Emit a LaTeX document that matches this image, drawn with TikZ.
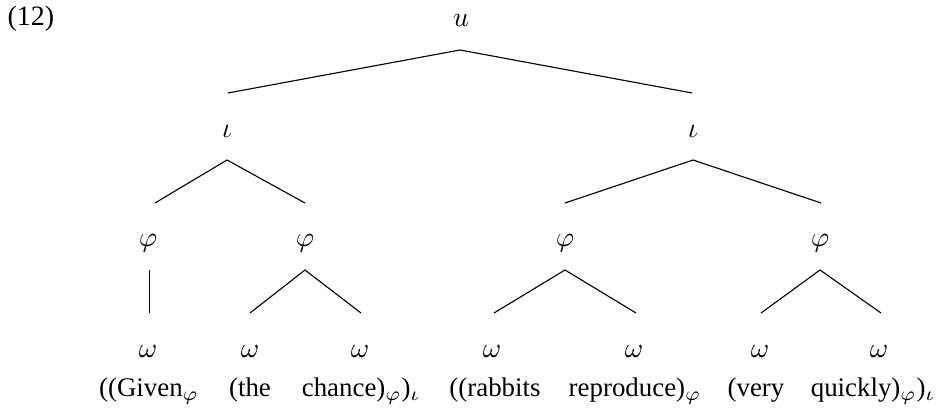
\documentclass[tikz,border=0pt]{standalone}
\usepackage{fontspec}
\setmainfont{Liberation Serif}
\begin{document}
\begin{tikzpicture}[x=0.357pt,y=-0.357pt,
  lab/.style={inner sep=0pt,font=\fontsize{10}{12}\selectfont},
  word/.style={inner sep=0pt,anchor=base,font=\fontsize{9.6}{12}\selectfont},
  edge/.style={line width=0.4pt}]
\useasboundingbox (0,0) rectangle (937,417);
\node[lab,anchor=base west] (ex) at (7,26) {(12)};
% labels
\node[lab] (u) at (461,20) {$u$};
\node[lab] (iL) at (227,131) {$\iota$};
\node[lab] (iR) at (693,131) {$\iota$};
\node[lab] (p1) at (148,243) {$\varphi$};
\node[lab] (p2) at (305,243) {$\varphi$};
\node[lab] (p3) at (565,243) {$\varphi$};
\node[lab] (p4) at (820,243) {$\varphi$};
\node[lab] (w1) at (148,351) {$\omega$};
\node[lab] (w2) at (250,351) {$\omega$};
\node[lab] (w3) at (360,351) {$\omega$};
\node[lab] (w4) at (492,351) {$\omega$};
\node[lab] (w5) at (634,351) {$\omega$};
\node[lab] (w6) at (760,351) {$\omega$};
\node[lab] (w7) at (879,351) {$\omega$};
% words
\node[word] (t1) at (149,396) {((Given$_\varphi$};
\node[word] (t2) at (250,396) {(the};
\node[word] (t3) at (361,396) {chance)$_\varphi$)$_\iota$};
\node[word] (t4) at (495,396) {((rabbits};
\node[word] (t5) at (635,396) {reproduce)$_\varphi$};
\node[word] (t6) at (756,396) {(very};
\node[word] (t7) at (873,396) {quickly)$_\varphi$)$_\iota$};
% edge end points
\coordinate (uB) at (460,50);
\coordinate (iLT) at (228,93);
\coordinate (iRT) at (692,93);
\coordinate (iLB) at (227,160);
\coordinate (iRB) at (693,160);
\coordinate (p1T) at (155,203);
\coordinate (p2T) at (305,203);
\coordinate (p3T) at (565,203);
\coordinate (p4T) at (821,203);
\coordinate (p1B) at (149.5,270);
\coordinate (p2B) at (305,270);
\coordinate (p3B) at (565,270);
\coordinate (p4B) at (820,270);
\coordinate (w1T) at (149.5,313);
\coordinate (w2T) at (250,313);
\coordinate (w3T) at (361,313);
\coordinate (w4T) at (494,313);
\coordinate (w5T) at (636,313);
\coordinate (w6T) at (761,313);
\coordinate (w7T) at (881,313);
\draw[edge] (iLT) -- (uB) -- (iRT);
\draw[edge] (p1T) -- (iLB) -- (p2T);
\draw[edge] (p3T) -- (iRB) -- (p4T);
\draw[edge] (p1B) -- (w1T);
\draw[edge] (w2T) -- (p2B) -- (w3T);
\draw[edge] (w4T) -- (p3B) -- (w5T);
\draw[edge] (w6T) -- (p4B) -- (w7T);
\end{tikzpicture}
\end{document}
